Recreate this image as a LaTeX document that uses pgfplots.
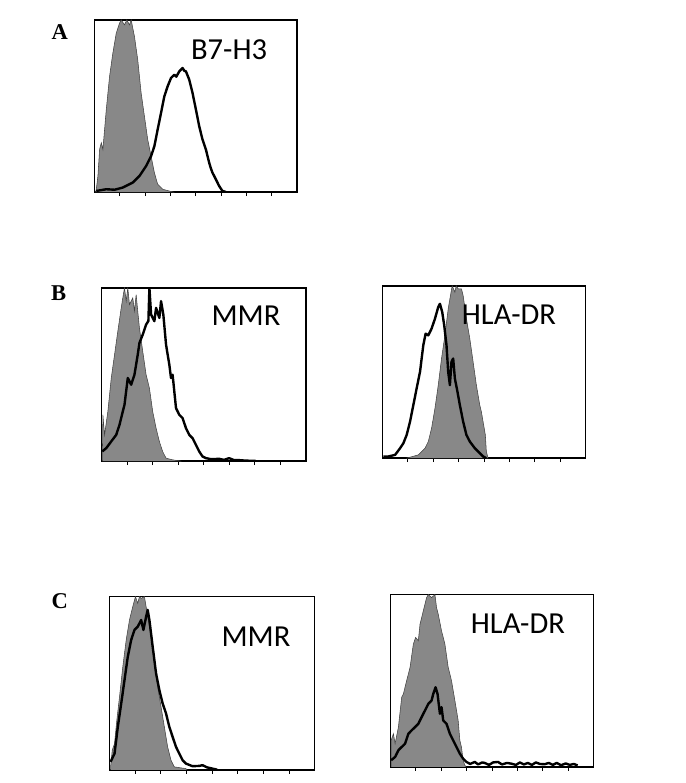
\documentclass[border=0pt]{standalone}
\usepackage{fontspec}
\setmainfont{Liberation Serif}
\newfontfamily\lab{Carlito}
\usepackage{pgfplots}
\pgfplotsset{compat=1.18}
\definecolor{fgray}{RGB}{136,136,136}
\pgfplotsset{
 flow/.style={scale only axis, anchor=north west, axis line style={line width=1.1pt},
   ymin=0, xmin=0, ymax=173, ytick=\empty, xticklabels={}, xtick pos=bottom,
   tick align=outside, major tick length=3pt,
   every tick/.style={black, line width=0.7pt}},
 gfill/.style={fill=fgray, draw=black!75, line width=0.4pt},
 bline/.style={black, line width=1.8pt, line join=round},
}
\begin{document}
\begin{tikzpicture}
\path (0,0) rectangle (516pt,-587.25pt);
% ---------------- A ----------------
\begin{axis}[flow, at={(71.25pt,-15pt)}, width=152.25pt, height=129.75pt, xmax=203,
  xtick={25.4,50.8,76.1,101.5,126.9,152.3,177.6}]
\addplot[gfill] coordinates {(1,0) (1.7,3) (3.3,16.3) (5,43) (6.7,49.7) (8.3,43) (11.7,83) (15,116.3) (18.3,139.7) (21.7,159.7) (25,169.7) (26.7,173) (30,168) (32.3,173) (35,168) (36.7,173) (40,156.3) (43.3,133) (46.7,99.7) (50,76.3) (53.3,53) (56.7,36.3) (60,19.7) (63.3,8) (68.3,3) (78.3,0.3) (80,0)};
\addplot[bline] coordinates {(1.7,1.3) (11.7,3) (20,2.5) (28.3,4.7) (38.3,9.7) (45,16.3) (51.7,26.3) (56.7,36.3) (60,46.3) (63.3,63) (66.7,79.7) (70,96.3) (73.3,106.3) (76.7,114.7) (80,118) (82,116) (85,121.3) (88.3,124.7) (90,122) (91.7,121.3) (95,113) (98.3,99.7) (101.7,83) (105,66.3) (108.3,53) (111.7,43) (115,29.7) (116.7,24) (118.3,19.7) (121.7,13) (125,6.3) (128.3,1.3) (131.7,0.3)};
\end{axis}
% ---------------- B left ----------------
\begin{axis}[flow, at={(76.5pt,-216.75pt)}, width=153.75pt, height=130.5pt, xmax=205,
  xtick={25.6,51.3,76.9,102.5,128.1,153.8,179.4}]
\addplot[gfill] coordinates {(0.7,0) (1.3,46.3) (3,26.3) (6.3,49.7) (9.7,83) (13,106.3) (16.3,129.7) (19.7,153) (21.3,163) (23,173) (24.7,159.7) (26.3,173) (28,156.3) (31.3,163) (33,150) (34.7,166.3) (36.3,149.7) (38,133) (41.3,109.7) (44.7,86.3) (48,73) (51.3,49.7) (54.7,33) (58,19.7) (61.3,9.7) (64.7,3) (71.3,1.3) (78,0.3) (80,0)};
\addplot[bline] coordinates {(0.7,9.7) (4.7,13) (9.7,19.7) (14.7,26.3) (18,36.3) (21.3,49.7) (23,56.3) (26.3,83) (29.7,76.3) (33,86.3) (36.3,106.3) (38,118) (41.3,126.3) (44.7,136.3) (47,140) (48,173) (49.7,146.3) (53,139.7) (54.7,153) (58,143) (59.7,159.7) (62,146.3) (64.7,116.3) (68,96.3) (69.7,83) (71.3,86.3) (73,69.7) (74.7,53) (78,46.3) (81.3,43) (84.7,33) (88,26.3) (91.3,23) (94.7,16.3) (98,9.7) (101.3,4.7) (104.7,3) (110,2) (118,2.3) (123,1.3) (128,3) (133,1) (138,1) (145,0.5) (154.7,0.3)};
\end{axis}
% ---------------- B right ----------------
\begin{axis}[flow, at={(288pt,-215.25pt)}, width=153pt, height=129.75pt, xmax=204,
  xtick={25.5,51,76.5,102,127.5,153,178.5}]
\addplot[gfill] coordinates {(24,0) (26,0.5) (36,3.3) (42.7,10) (46,16.7) (49.3,30) (52.7,50) (56,73.3) (59.3,100) (62.7,123.3) (66,150) (67.7,160) (70,173) (72.7,166.7) (74,173) (76,170) (79.3,170) (81,163.3) (84.3,140) (87.7,120) (91,96.7) (94.3,73.3) (97.7,53.3) (99.3,46.7) (101,36.7) (103.3,23.3) (104.3,6.7) (106,0)};
\addplot[bline] coordinates {(1,1.7) (6,1.7) (12.7,3.3) (17.7,10) (21,15) (24.3,23.3) (27.7,36.7) (31,53.3) (34.3,70) (37.7,86.7) (41,113.3) (43.3,125) (46,123.3) (49.3,130) (52.7,140) (56,151.7) (57.7,155) (60,146.7) (62,133.3) (64.3,113.3) (66,86.7) (67.7,73.3) (69.3,96.7) (71,100) (72.7,80) (75.3,66.7) (77.7,53.3) (81,36.7) (84.3,23.3) (87.7,16.7) (92.7,10) (97.7,5) (101,1.7) (104.3,0)};
\end{axis}
% ---------------- C left ----------------
\begin{axis}[flow, at={(82.5pt,-449.25pt)}, width=154.5pt, height=130.5pt, xmax=206,
  xtick={25.75,51.5,77.25,103,128.75,154.5,180.25}]
\addplot[gfill] coordinates {(1,0) (1,3) (2.7,19.7) (5,26.3) (7.3,49.7) (10,73) (13.3,103) (16.7,129.7) (20,149.7) (23.3,163) (26,173) (28.3,166.3) (30,173) (31.7,171.3) (35,173) (36.7,163) (38.3,153) (41.7,133) (45,106.3) (48.3,83) (51.7,63) (55,43) (58.3,23) (61.7,9.7) (65,3) (76.7,1.3) (78,0)};
\addplot[bline] coordinates {(1,8) (5,16.3) (8.3,43) (11.7,66.3) (15,89.7) (18.3,113) (21.7,129.7) (25,139.7) (28.3,143) (31.7,149.7) (34,139.7) (36.7,153) (38.3,159.7) (40,149.7) (43.3,123) (46.7,96.3) (50,79.7) (53.3,66.3) (56.7,56.3) (60,43) (63.3,33) (66.7,23) (70,16.3) (73.3,9.7) (76.7,6.3) (83.3,3.7) (90,4) (93.3,4.7) (98,2.5) (103.3,1.3) (108,0.3)};
\end{axis}
% ---------------- C right ----------------
\begin{axis}[flow, at={(294pt,-447.75pt)}, width=153pt, height=129.75pt, xmax=204,
  xtick={25.5,51,76.5,102,127.5,153,178.5}]
\addplot[gfill] coordinates {(0.7,0) (0.7,26.7) (3,33.3) (4.7,23.3) (8,40) (11.3,70) (13,73.3) (16.3,86.7) (19.7,100) (23,123.3) (25.3,130) (28,126.7) (29.7,143.3) (33,156.7) (36.3,170) (38,173) (41.3,170) (44.7,173) (46.3,160) (48,153.3) (51.3,136.7) (54.7,123.3) (58,100) (61.3,86.7) (64.7,66.7) (68,46.7) (69.7,26.7) (71.3,20) (73,6.7) (74.7,1.7) (76,0)};
\addplot[bline] coordinates {(0.7,6.7) (4.7,10) (8,16.7) (11.3,20) (14.7,23.3) (18,33.3) (21.3,36.7) (24.7,40) (28,43.3) (31.3,50) (34.7,56.7) (38,63.3) (41.3,66.7) (43,73.3) (45.3,80) (47.3,73.3) (49.7,53.3) (51.3,60) (53,46.7) (56.3,43.3) (59.7,33.3) (63,26.7) (66.3,20) (69.7,13.3) (73,8.3) (76.3,5) (80,3) (84.7,5) (88,2.5) (92,4.5) (94.7,4) (99,2) (103,4.5) (108,5) (112,2.5) (117,4) (121.3,3.3) (126,2) (130,4.5) (134,2.5) (138,4) (142,2) (146,4.5) (150,3) (154.7,2.7) (159,4) (163,2) (167,4) (171.3,1.7) (176,3.5) (180,2) (184,3) (188,1.5)};
\end{axis}
% ---------------- labels ----------------
\node[inner sep=0, anchor=center] at (172.5pt,-37.5pt) {\lab\fontsize{23}{27}\selectfont B7-H3};
\node[inner sep=0, anchor=center] at (185.25pt,-238.1pt) {\lab\fontsize{23}{27}\selectfont MMR};
\node[inner sep=0, anchor=center] at (383.25pt,-237pt) {\lab\fontsize{23}{27}\selectfont HLA-DR};
\node[inner sep=0, anchor=center] at (192.75pt,-479.25pt) {\lab\fontsize{23}{27}\selectfont MMR};
\node[inner sep=0, anchor=center] at (390pt,-469.5pt) {\lab\fontsize{23}{27}\selectfont HLA-DR};
\node[inner sep=0, anchor=center] at (45pt,-24pt) {\bfseries\fontsize{17}{20}\selectfont A};
\node[inner sep=0, anchor=center] at (44.25pt,-220.5pt) {\bfseries\fontsize{17}{20}\selectfont B};
\node[inner sep=0, anchor=center] at (45pt,-453pt) {\bfseries\fontsize{17}{20}\selectfont C};
\end{tikzpicture}
\end{document}
